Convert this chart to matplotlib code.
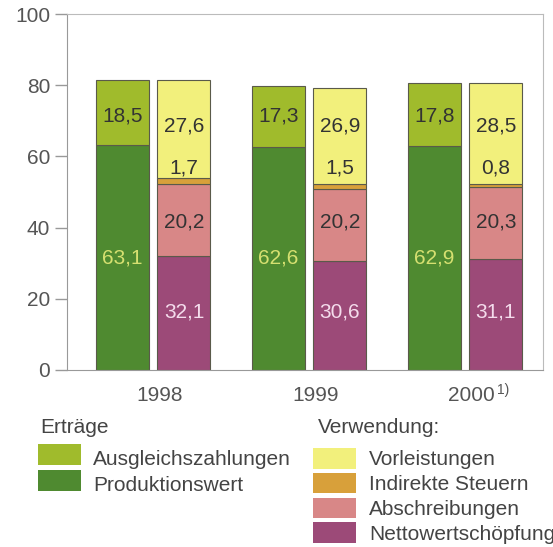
import matplotlib.pyplot as plt
import numpy as np
from matplotlib.patches import Rectangle

plt.rcParams['font.family'] = ['Liberation Sans', 'DejaVu Sans']

# data
years = ['1998', '1999', '2000']
footnote = '1)'
ausgleich = [18.5, 17.3, 17.8]
produktion = [63.1, 62.6, 62.9]
netto = [32.1, 30.6, 31.1]
abschreibungen = [20.2, 20.2, 20.3]
indirekte = [1.7, 1.5, 0.8]
vorleistungen = [27.6, 26.9, 28.5]

fmt = lambda v: f'{v:.1f}'.replace('.', ',')

c_ausgl = '#a0bb2c'
c_prod = '#4f8a30'
c_vorl = '#f2f07c'
c_ind = '#d8a03a'
c_absch = '#d88787'
c_netto = '#9c4a78'
edge = '#5a5a4a'

fig = plt.figure(figsize=(5.53, 5.47), dpi=100)
W, H = 553, 547
ax = fig.add_axes([66.7 / W, 1 - 369.7 / H, (543 - 66.7) / W, (369.7 - 14.3) / H])

x = np.arange(len(years))
w = 0.34
off = 0.197

# left bars (Erträge)
ax.bar(x - off, produktion, w, color=c_prod, edgecolor=edge, linewidth=0.8)
ax.bar(x - off, ausgleich, w, bottom=produktion, color=c_ausgl, edgecolor=edge, linewidth=0.8)

# right bars (Verwendung)
b1 = np.array(netto)
b2 = b1 + np.array(abschreibungen)
b3 = b2 + np.array(indirekte)
ax.bar(x + off, netto, w, color=c_netto, edgecolor=edge, linewidth=0.8)
ax.bar(x + off, abschreibungen, w, bottom=b1, color=c_absch, edgecolor=edge, linewidth=0.8)
ax.bar(x + off, indirekte, w, bottom=b2, color=c_ind, edgecolor=edge, linewidth=0.8)
ax.bar(x + off, vorleistungen, w, bottom=b3, color=c_vorl, edgecolor=edge, linewidth=0.8)

# value labels
fs = 15
for i in range(len(years)):
    ax.text(x[i] - off, 71.5, fmt(ausgleich[i]), ha='center', va='center', fontsize=fs, color='#333333')
    ax.text(x[i] - off, 31.3, fmt(produktion[i]), ha='center', va='center', fontsize=fs, color='#d6e070')
    ax.text(x[i] + off, 68.7, fmt(vorleistungen[i]), ha='center', va='center', fontsize=fs, color='#333333')
    ax.text(x[i] + off, 56.7, fmt(indirekte[i]), ha='center', va='center', fontsize=fs, color='#333333')
    ax.text(x[i] + off, 41.6, fmt(abschreibungen[i]), ha='center', va='center', fontsize=fs, color='#333333')
    ax.text(x[i] + off, 16.3, fmt(netto[i]), ha='center', va='center', fontsize=fs, color='#f4dcec')

ax.set_xlim(-0.555, 2.5)
ax.set_ylim(0, 100)
ax.set_yticks(np.arange(0, 101, 20))
ax.tick_params(axis='y', length=9, width=1, color='#999999', labelsize=15, labelcolor='#555555', pad=3)
ax.set_xticks(x + 0.04)
ax.set_xticklabels(years)
ax.tick_params(axis='x', length=0, labelsize=15, labelcolor='#555555', pad=12)
for s in ['left', 'bottom']:
    ax.spines[s].set_color('#999999')
for s in ['top', 'right']:
    ax.spines[s].set_color('#bbbbbb')
    ax.spines[s].set_linewidth(0.8)

# footnote mark next to the last year label
ax.annotate(footnote, xy=(x[-1] + 0.04, 0), xycoords=('data', 'axes fraction'),
            xytext=(18.5, -9.5), textcoords='offset points', fontsize=10,
            color='#555555', ha='left', va='top')

# legend drawn in figure pixel coordinates
def patch(x0, y0, x1, y1, color):
    fig.patches.append(Rectangle((x0 / W, 1 - y1 / H), (x1 - x0) / W, (y1 - y0) / H,
                                 transform=fig.transFigure, facecolor=color,
                                 edgecolor='none', linewidth=0))

def label(x0, yb, s):
    fig.text(x0 / W, 1 - yb / H, s, fontsize=15, color='#444444', va='baseline', ha='left')

label(40, 433, 'Erträge')
patch(38, 444, 81, 465, c_ausgl)
label(93, 465, 'Ausgleichszahlungen')
patch(38, 470, 81, 491, c_prod)
label(93, 491, 'Produktionswert')

label(318, 433, 'Verwendung:')
rows = [('Vorleistungen', c_vorl), ('Indirekte Steuern', c_ind),
        ('Abschreibungen', c_absch), ('Nettowertschöpfung', c_netto)]
for k, (name, col) in enumerate(rows):
    y0 = 448 + k * 24.8
    patch(313, y0, 356, y0 + 20.5, col)
    label(369, 465 + k * 25, name)

fig.savefig('out.png', dpi=100)
